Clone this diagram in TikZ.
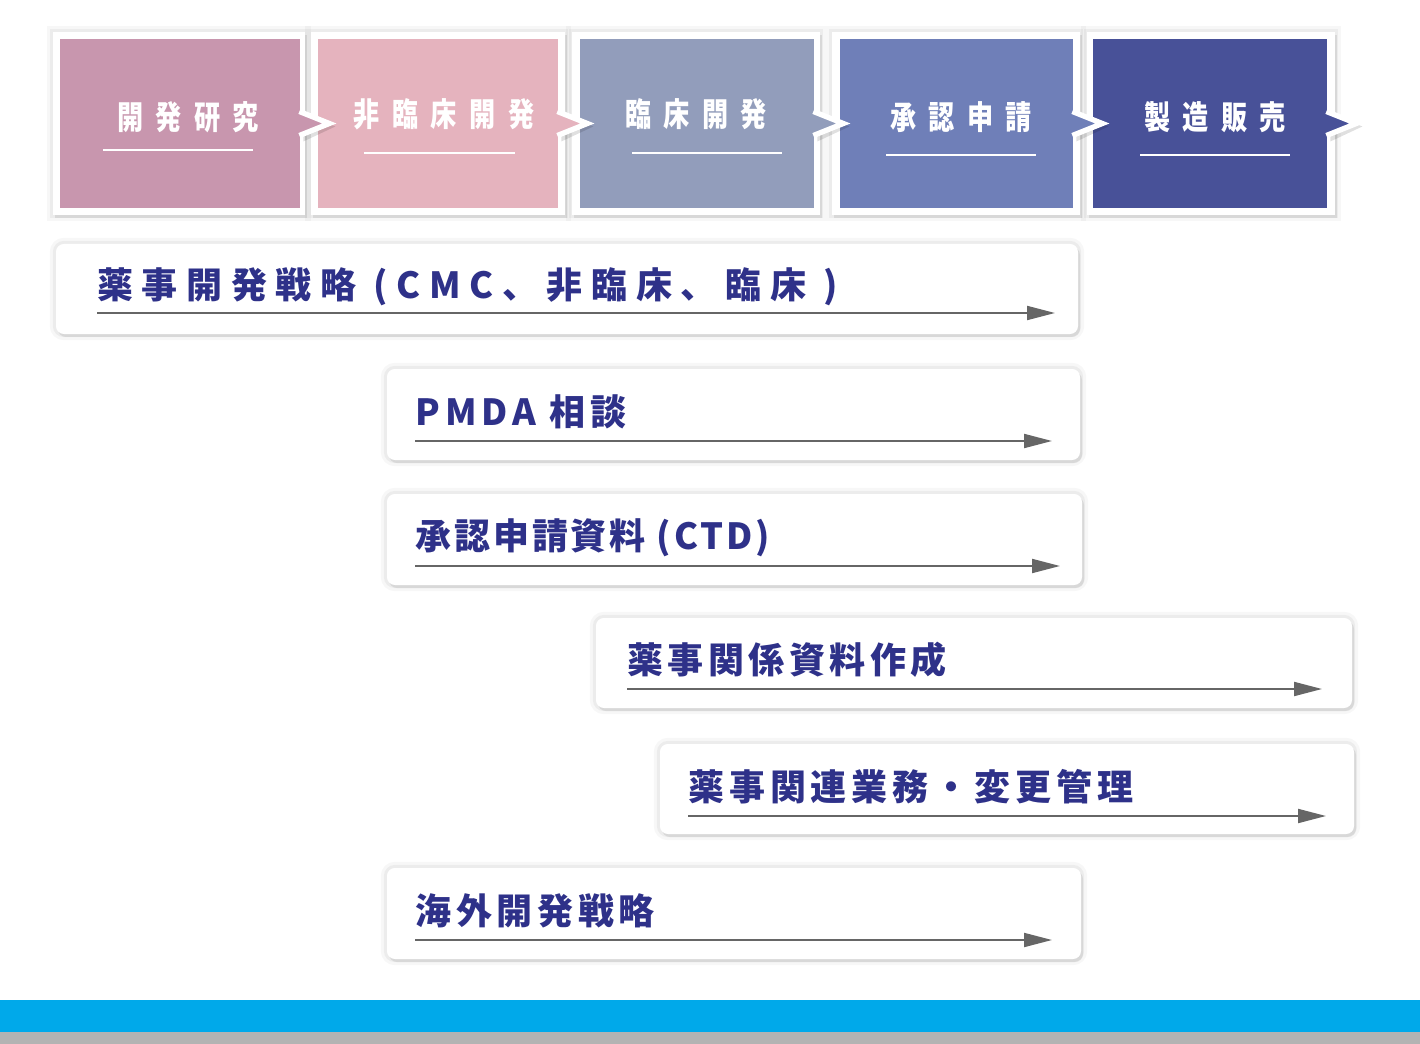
\documentclass[tikz,border=0pt]{standalone}
\usepackage{fontspec}
\setmainfont{Noto Sans CJK JP}
\usepackage{xcolor}
\usetikzlibrary{fit}
\usetikzlibrary{shadows}
\usetikzlibrary{arrows.meta}
\definecolor{kenkyu}{HTML}{C896AE}
\definecolor{hirinsho}{HTML}{E5B3BE}
\definecolor{rinsho}{HTML}{929DBB}
\definecolor{shonin}{HTML}{6F7FB8}
\definecolor{seizo}{HTML}{485198}
\definecolor{navy}{HTML}{2E3189}
\definecolor{flowgray}{HTML}{666666}
\definecolor{skyband}{HTML}{00A9EA}
\definecolor{greyband}{HTML}{B3B3B3}
\newcommand{\phasetext}{\fontsize{18.6}{20}\selectfont\bfseries\addfontfeatures{FakeStretch=0.8,LetterSpace=38}}
\newcommand{\bartext}[1]{\fontsize{20.5}{22}\selectfont\bfseries\addfontfeatures{LetterSpace=#1}}
\newcommand{\framenode}{\node[frame]}
\newcommand{\phasenode}{\node[phase]}
\newcommand{\barnode}{\node[bar]}

\tikzset{
  haze/.style={preaction={draw=black,opacity=0.03,line width=7pt},
               preaction={draw=black,opacity=0.045,line width=3.5pt},
               drop shadow={shadow xshift=0.04cm,shadow yshift=-0.06cm,opacity=0.18}},
  frame/.style={fill=white,inner sep=0pt,haze},
  phase/.style={inner sep=0pt},
  ptext/.style={text=white,inner sep=0pt},
  uline/.style={draw=white,line width=1pt},
  chev/.style={draw=white,line width=3pt,line join=miter},
  chevshade/.style={fill=black,opacity=0.12},
  bar/.style={fill=white,rounded corners=4.5pt,inner sep=0pt,haze},
  btext/.style={text=navy,inner sep=0pt,anchor=west},
  flow/.style={draw=flowgray,line width=1.1pt,-{Triangle[length=0.56cm,width=0.28cm]}}
}

\begin{document}
\begin{tikzpicture}[x=0.02cm,y=-0.02cm]
  \useasboundingbox (0,0) rectangle (1420,1044);
  % phases
  \framenode[fit={(53,32) (305,215)}] (f1) {};
  \phasenode[fill=kenkyu,fit={(60,39) (300,208)}] (p1) {};
  \framenode[fit={(311,32) (565,215)}] (f2) {};
  \phasenode[fill=hirinsho,fit={(318,39) (558,208)}] (p2) {};
  \framenode[fit={(572,32) (820,215)}] (f3) {};
  \phasenode[fill=rinsho,fit={(580,39) (814,208)}] (p3) {};
  \framenode[fit={(832,32) (1080,215)}] (f4) {};
  \phasenode[fill=shonin,fit={(840,39) (1073,208)}] (p4) {};
  \framenode[fit={(1087,32) (1335,215)}] (f5) {};
  \phasenode[fill=seizo,fit={(1093,39) (1327,208)}] (p5) {};
  % chevrons
  \fill[chevshade,shift={(p1.east)}] (3,-10) -- (35,3) -- (3,18) -- cycle;
  \fill[chevshade,shift={(p2.east)}] (3,-10) -- (35,3) -- (3,18) -- cycle;
  \fill[chevshade,shift={(p3.east)}] (3,-10) -- (35,3) -- (3,18) -- cycle;
  \fill[chevshade,shift={(p4.east)}] (3,-10) -- (35,3) -- (3,18) -- cycle;
  \fill[chevshade,shift={(p5.east)}] (3,-10) -- (35,3) -- (3,18) -- cycle;
  \draw[chev,fill=kenkyu,shift={(p1.east)}] (-1,-12) -- (29,0) -- (-1,12);
  \draw[chev,fill=hirinsho,shift={(p2.east)}] (-1,-12) -- (29,0) -- (-1,12);
  \draw[chev,fill=rinsho,shift={(p3.east)}] (-1,-12) -- (29,0) -- (-1,12);
  \draw[chev,fill=shonin,shift={(p4.east)}] (-1,-12) -- (29,0) -- (-1,12);
  \draw[chev,fill=seizo,shift={(p5.east)}] (-1,-12) -- (29,0) -- (-1,12);
  % phase labels
  \node[ptext] (t1) at (188,117) {\phasetext 開発研究};
  \node[ptext] (t2) at (444,114) {\phasetext 非臨床開発};
  \node[ptext] (t3) at (696,114) {\phasetext 臨床開発};
  \node[ptext] (t4) at (961,117) {\phasetext 承認申請};
  \node[ptext] (t5) at (1215,117) {\phasetext 製造販売};
  \draw[uline] (103,150) -- (253,150);
  \draw[uline] (364,153) -- (515,153);
  \draw[uline] (632,153) -- (782,153);
  \draw[uline] (886,155) -- (1036,155);
  \draw[uline] (1140,155) -- (1290,155);
  % task bars
  \barnode[fit={(56,244) (1078,334)}] (b1) {};
  \barnode[fit={(387,369) (1080,460)}] (b2) {};
  \barnode[fit={(387,494) (1082,585)}] (b3) {};
  \barnode[fit={(596,618) (1352,708)}] (b4) {};
  \barnode[fit={(660,744) (1354,834)}] (b5) {};
  \barnode[fit={(387,868) (1081,959)}] (b6) {};
  \node[btext] (l1) at (97,287) {\bartext{24}薬事開発戦略 (CMC、非臨床、臨床 )};
  \node[btext] (l2) at (415,412) {\bartext{14}PMDA 相談};
  \node[btext] (l3) at (415,538) {\bartext{8}承認申請資料 (CTD)};
  \node[btext] (l4) at (627,660) {\bartext{12.5}薬事関係資料作成};
  \node[btext] (l5) at (688,787) {\bartext{13.5}薬事関連業務・変更管理};
  \node[btext] (l6) at (415,911) {\bartext{13}海外開発戦略};
  \coordinate (s1) at (97,313);  \coordinate (e1) at (1055,313);
  \coordinate (s2) at (415,441); \coordinate (e2) at (1052,441);
  \coordinate (s3) at (415,566); \coordinate (e3) at (1060,566);
  \coordinate (s4) at (627,689); \coordinate (e4) at (1322,689);
  \coordinate (s5) at (688,816); \coordinate (e5) at (1326,816);
  \coordinate (s6) at (415,940); \coordinate (e6) at (1052,940);
  \draw[flow] (s1) -- (e1);
  \draw[flow] (s2) -- (e2);
  \draw[flow] (s3) -- (e3);
  \draw[flow] (s4) -- (e4);
  \draw[flow] (s5) -- (e5);
  \draw[flow] (s6) -- (e6);
  % bottom bands
  \fill[skyband] (0,1000) rectangle (1420,1032);
  \fill[greyband] (0,1032) rectangle (1420,1044);
\end{tikzpicture}
\end{document}
